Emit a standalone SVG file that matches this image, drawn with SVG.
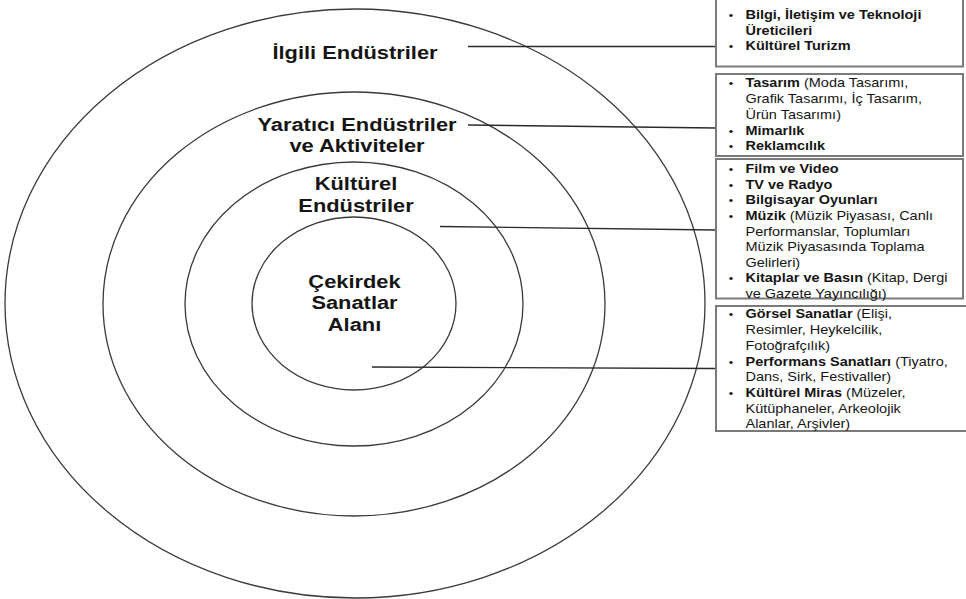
<svg xmlns="http://www.w3.org/2000/svg" width="966" height="599" viewBox="0 0 966 599">
<style>
.ring{fill:none;stroke:#3a3a3a;stroke-width:1.3}
.box{fill:#fff;stroke:#7a7a7a;stroke-width:2}
.conn{fill:none;stroke:#2a2a2a;stroke-width:1.3}
.lbl{font-family:"Liberation Sans",Arial,sans-serif;font-weight:bold;font-size:19px;fill:#151515;text-anchor:middle}
.bt{font-family:"Liberation Sans",Arial,sans-serif;font-size:12.5px;fill:#151515}
.b{font-weight:bold}
.bul{text-anchor:middle;font-size:11px}
</style>
<rect width="966" height="599" fill="#fff"/>
<g id="ring-outer">
<ellipse class="ring" cx="355" cy="303.5" rx="350" ry="294.5"/>
<g transform="translate(355,0) scale(1.15,1)"><text class="lbl" x="0" y="59.5">İlgili Endüstriler</text></g>
</g>
<g id="ring-creative">
<ellipse class="ring" cx="354" cy="304" rx="251" ry="212"/>
<g transform="translate(357,0) scale(1.15,1)"><text class="lbl" x="0" y="131">Yaratıcı Endüstriler</text><text class="lbl" x="0" y="152.5">ve Aktiviteler</text></g>
</g>
<g id="ring-cultural">
<ellipse class="ring" cx="354" cy="304" rx="169" ry="142"/>
<g transform="translate(356,0) scale(1.15,1)"><text class="lbl" x="0" y="190">Kültürel</text><text class="lbl" x="0" y="212">Endüstriler</text></g>
</g>
<g id="ring-core">
<ellipse class="ring" cx="354" cy="303.5" rx="102" ry="86.5"/>
<g transform="translate(354.5,0) scale(1.15,1)"><text class="lbl" x="0" y="288">Çekirdek</text><text class="lbl" x="0" y="309.5">Sanatlar</text><text class="lbl" x="0" y="331">Alanı</text></g>
</g>
<g id="connectors">
<line class="conn" x1="468" y1="46.5" x2="716" y2="46.5"/>
<line class="conn" x1="468" y1="125" x2="716" y2="128"/>
<line class="conn" x1="440" y1="226.5" x2="716" y2="230"/>
<line class="conn" x1="372" y1="367" x2="716" y2="368.5"/>
</g>
<g id="box-related">
<rect class="box" x="716" y="-6" width="247" height="72.5"/>
<g transform="translate(745.5,0) scale(1.16,1)" class="bt">
<text class="bul" x="-12.5" y="19.5">•</text><text x="0" y="19.5" class="b">Bilgi, İletişim ve Teknoloji</text>
<text x="0" y="35" class="b">Üreticileri</text>
<text class="bul" x="-12.5" y="50.5">•</text><text x="0" y="50.5" class="b">Kültürel Turizm</text>
</g>
</g>
<g id="box-creative">
<rect class="box" x="716" y="74" width="247" height="82"/>
<g transform="translate(745.5,0) scale(1.16,1)" class="bt">
<text class="bul" x="-12.5" y="87.5">•</text><text x="0" y="87.5"><tspan class="b">Tasarım</tspan> (Moda Tasarımı,</text>
<text x="0" y="103.2">Grafik Tasarımı, İç Tasarım,</text>
<text x="0" y="118.9">Ürün Tasarımı)</text>
<text class="bul" x="-12.5" y="134.6">•</text><text x="0" y="134.6" class="b">Mimarlık</text>
<text class="bul" x="-12.5" y="150.3">•</text><text x="0" y="150.3" class="b">Reklamcılık</text>
</g>
</g>
<g id="box-cultural">
<rect class="box" x="716" y="159" width="247" height="139.5"/>
<g transform="translate(745.5,0) scale(1.16,1)" class="bt">
<text class="bul" x="-12.5" y="173.3">•</text><text x="0" y="173.3" class="b">Film ve Video</text>
<text class="bul" x="-12.5" y="188.9">•</text><text x="0" y="188.9" class="b">TV ve Radyo</text>
<text class="bul" x="-12.5" y="204.5">•</text><text x="0" y="204.5" class="b">Bilgisayar Oyunları</text>
<text class="bul" x="-12.5" y="220.1">•</text><text x="0" y="220.1"><tspan class="b">Müzik</tspan> (Müzik Piyasası, Canlı</text>
<text x="0" y="235.7">Performanslar, Toplumları</text>
<text x="0" y="251.3">Müzik Piyasasında Toplama</text>
<text x="0" y="266.9">Gelirleri)</text>
<text class="bul" x="-12.5" y="282.5">•</text><text x="0" y="282.5"><tspan class="b">Kitaplar ve Basın</tspan> (Kitap, Dergi</text>
<text x="0" y="298">ve Gazete Yayıncılığı)</text>
</g>
</g>
<g id="box-core">
<rect class="box" x="716" y="306" width="254" height="125"/>
<g transform="translate(745.5,0) scale(1.16,1)" class="bt">
<text class="bul" x="-12.5" y="318.5">•</text><text x="0" y="318.5"><tspan class="b">Görsel Sanatlar</tspan> (Elişi,</text>
<text x="0" y="334.2">Resimler, Heykelcilik,</text>
<text x="0" y="349.9">Fotoğrafçılık)</text>
<text class="bul" x="-12.5" y="365.6">•</text><text x="0" y="365.6"><tspan class="b">Performans Sanatları</tspan> (Tiyatro,</text>
<text x="0" y="381.3">Dans, Sirk, Festivaller)</text>
<text class="bul" x="-12.5" y="397">•</text><text x="0" y="397"><tspan class="b">Kültürel Miras</tspan> (Müzeler,</text>
<text x="0" y="412.7">Kütüphaneler, Arkeolojik</text>
<text x="0" y="428.4">Alanlar, Arşivler)</text>
</g>
</g>
</svg>
